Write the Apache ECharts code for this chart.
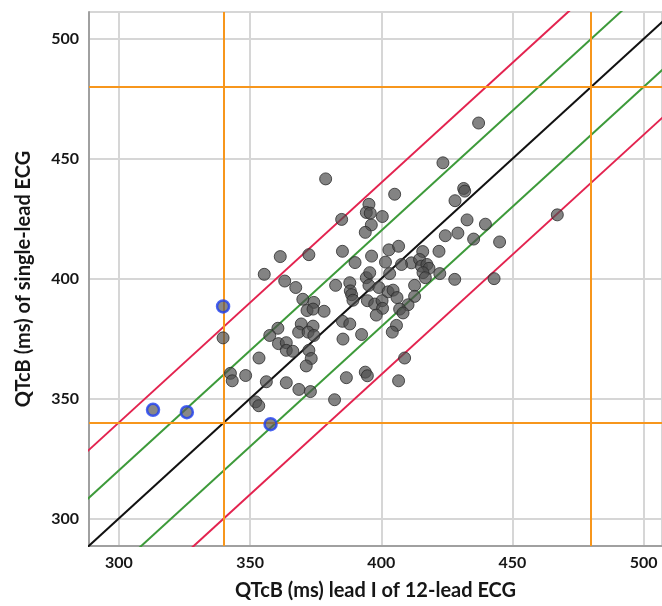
<!DOCTYPE html>
<html>
<head>
<meta charset="utf-8">
<script src="https://cdn.jsdelivr.net/npm/echarts@6/dist/echarts.min.js"></script>
<style>
html, body { margin: 0; padding: 0; background: #fff; }
#main { width: 662px; height: 606px; }
</style>
</head>
<body>
<div id="main"></div>
<script>
// QTcB from lead I of 12-lead ECG (x) vs single-lead ECG (y), ms
const grayPoints = [
    [378.8, 441.6], [437.1, 464.9], [423.5, 448.3], [405.1, 435.2], [431.4, 437.6],
    [431.8, 436.5], [428.1, 432.5], [395.3, 431.0], [394.3, 427.6], [395.8, 427.3],
    [400.4, 425.9], [384.9, 424.7], [396.2, 422.4], [393.9, 419.3], [432.7, 424.5],
    [439.7, 422.7], [424.4, 417.9], [429.2, 419.0], [435.2, 416.5], [445.1, 415.3],
    [467.1, 426.6], [361.5, 409.2], [372.4, 410.0], [385.2, 411.4], [396.3, 409.4],
    [402.9, 412.0], [406.6, 413.5], [415.8, 411.3], [422.0, 411.4], [390.0, 406.7],
    [401.6, 406.9], [411.5, 406.6], [407.7, 405.9], [414.6, 408.0], [415.3, 405.2],
    [417.4, 405.9], [418.2, 404.3], [415.9, 402.5], [416.8, 400.4], [422.3, 402.1],
    [428.0, 399.7], [443.0, 400.0], [403.2, 402.1], [355.4, 401.8], [363.2, 399.0],
    [367.4, 396.3], [382.6, 397.2], [388.0, 398.3], [388.2, 394.9], [388.7, 393.3],
    [389.2, 391.0], [394.3, 400.4], [395.6, 402.5], [395.3, 397.2], [399.1, 396.3],
    [402.6, 394.5], [404.5, 395.2], [394.7, 390.8], [397.5, 389.4], [400.3, 390.8],
    [400.5, 387.6], [398.1, 384.8], [412.7, 397.2], [406.0, 392.1], [412.7, 392.6],
    [410.2, 389.1], [407.0, 387.3], [408.3, 385.7], [405.8, 380.5], [404.2, 377.7],
    [408.9, 366.9], [406.6, 357.4], [370.1, 391.4], [374.3, 390.1], [371.7, 386.7],
    [374.0, 387.3], [378.2, 386.4], [385.2, 382.2], [388.0, 381.1], [392.5, 376.7],
    [385.4, 374.8], [369.5, 381.1], [374.0, 380.2], [368.5, 377.7], [372.1, 377.7],
    [374.3, 376.3], [360.6, 379.3], [357.5, 376.3], [360.8, 372.9], [363.8, 373.3],
    [363.8, 370.1], [366.3, 369.7], [372.4, 370.1], [373.3, 366.7], [371.4, 363.6],
    [353.4, 366.9], [342.5, 360.5], [343.2, 357.4], [348.3, 359.6], [356.2, 357.0],
    [363.8, 356.6], [368.6, 353.8], [373.0, 352.9], [352.1, 348.6], [353.3, 347.0],
    [382.2, 349.5], [386.7, 358.7], [393.9, 361.0], [394.7, 359.5], [339.7, 375.3]
];

const bluePoints = [
    [313.0, 345.3], [325.9, 344.3], [339.7, 388.4], [357.8, 339.3]
];

const identityOffsets = [0];
const innerOffsets = [-20, 20];
const outerOffsets = [-40, 40];
const cutoffValues = [340, 480];

const xMin = 288.6, xMax = 507;
const yMin = 288.5, yMax = 511.2;

const chart = echarts.init(document.getElementById('main'));

const FONT = 'Lato';

function diagonal(offset, color) {
    return {
        type: 'line',
        data: [[250, 250 + offset], [560, 560 + offset]],
        symbol: 'none',
        silent: true,
        z: 3,
        lineStyle: { color: color, width: 2 }
    };
}

const axisCommon = {
    type: 'value',
    nameLocation: 'middle',
    nameTextStyle: { fontFamily: FONT, fontWeight: 'bold', fontSize: 20, color: '#161616' },
    axisLine: { show: true, lineStyle: { color: '#a0a0a0', width: 2 } },
    axisTick: { show: false },
    splitLine: { show: true, lineStyle: { color: '#d6d6d6', width: 2 } },
    axisLabel: {
        fontFamily: FONT, fontWeight: 'bold', fontSize: 16, color: '#161616',
        showMinLabel: false, showMaxLabel: false
    }
};

const series = [];
identityOffsets.forEach(o => series.push(diagonal(o, '#111111')));
innerOffsets.forEach(o => series.push(diagonal(o, '#3d9a3a')));
outerOffsets.forEach(o => series.push(diagonal(o, '#e3234f')));

series.push({
    type: 'line',
    data: [],
    silent: true,
    markLine: {
        silent: true,
        symbol: 'none',
        label: { show: false },
        lineStyle: { color: '#f7961c', width: 2, type: 'solid' },
        data: cutoffValues.map(v => ({ xAxis: v })).concat(cutoffValues.map(v => ({ yAxis: v })))
    },
    z: 4
});

series.push({
    type: 'scatter',
    data: grayPoints,
    symbolSize: 12,
    z: 5,
    itemStyle: { color: 'rgba(78,78,78,0.88)', borderColor: '#2a2a2a', borderWidth: 1 }
});

series.push({
    type: 'scatter',
    data: bluePoints,
    symbolSize: 12,
    z: 6,
    itemStyle: { color: 'rgba(90,90,90,0.9)', borderColor: '#1e3ef0', borderWidth: 2.5 }
});

const option = {
    animation: false,
    grid: { left: 89, right: 0, top: 12, bottom: 55 },
    xAxis: Object.assign({}, axisCommon, {
        min: xMin, max: xMax,
        name: 'QTcB (ms) lead I of 12-lead ECG',
        nameGap: 35,
        axisLabel: Object.assign({}, axisCommon.axisLabel, { margin: 9 })
    }),
    yAxis: Object.assign({}, axisCommon, {
        min: yMin, max: yMax,
        name: 'QTcB (ms) of single-lead ECG',
        nameGap: 55,
        axisLabel: Object.assign({}, axisCommon.axisLabel, { margin: 10 })
    }),
    series: series
};

chart.setOption(option);
</script>
</body>
</html>
